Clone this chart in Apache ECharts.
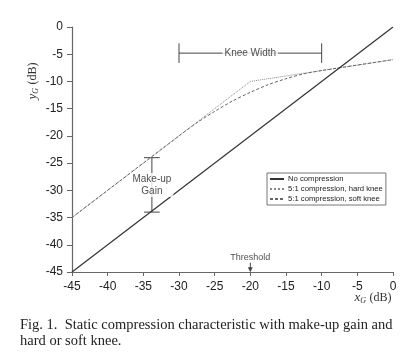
<!DOCTYPE html>
<html>
<head>
<meta charset="utf-8">
<script src="https://cdn.jsdelivr.net/npm/echarts@6/dist/echarts.min.js"></script>
<style>html,body{margin:0;padding:0;background:#fff;}#c{width:413px;height:359px;}</style>
</head>
<body>
<div id="c"></div>
<script>
// ---- data ----
const seriesNames = ['No compression', '5:1 compression, hard knee', '5:1 compression, soft knee'];
const noCompX = [-45, 0];
const noCompY = [-45, 0];
const hardX = [-45, -20, 0];
const hardY = [-35, -10, -6];
const softX = [-45, -30, -27.5, -25, -22.5, -20, -17.5, -15, -12.5, -10, 0];
const softY = [-35, -20, -17.6, -15.5, -13.6, -12, -10.6, -9.5, -8.6, -8, -6];
// annotations (data coordinates)
const kneeWidthX = [-30, -10];
const kneeWidthY = -4.8;
const kneeCapY = [-3, -6.6];
const makeupX = -33.8;
const makeupY = [-24, -34];
const makeupCapHalf = 1.1;
const makeupTextY = -29;
const thresholdX = -20;
const thresholdTextY = -42.3;
const thresholdArrowY = [-43.2, -44.6];

const zip = (xs, ys) => xs.map((x, i) => [x, ys[i]]);
const annoStyle = { color: '#444', width: 1 };
const annoLine = (data) => ({
  type: 'line', data, symbol: 'none', silent: true, z: 3,
  lineStyle: annoStyle, legendHoverLink: false, tooltip: { show: false }
});
const txt = (x, y, text, fs) => ({
  type: 'scatter', symbolSize: 0, silent: true, z: 10,
  data: [[x, y]],
  label: { show: true, position: 'inside', formatter: text, fontFamily: 'Liberation Sans, Arial', fontSize: fs, color: '#222', backgroundColor: '#fff', padding: [0, 2], lineHeight: fs + 2, align: 'center' }
});
const lineColors = ['#333', '#888', '#666'];

const chart = echarts.init(document.getElementById('c'), null, { renderer: 'canvas' });
chart.setOption({
  animation: false,
  backgroundColor: '#fff',
  grid: { left: 72, right: 20, top: 27, bottom: 87, containLabel: false },
  xAxis: {
    type: 'value', min: -45, max: 0, interval: 5,
    axisLine: { show: true, onZero: false, lineStyle: { color: '#666', width: 1.2 } },
    axisTick: { show: true, length: 4, lineStyle: { color: '#666' } },
    axisLabel: { fontFamily: 'Liberation Sans, Arial', fontSize: 12, color: '#222', margin: 9 },
    splitLine: { show: false }
  },
  yAxis: {
    type: 'value', min: -45, max: 0, interval: 5,
    axisLine: { show: true, onZero: false, lineStyle: { color: '#666', width: 1.2 } },
    axisTick: { show: true, length: 5, lineStyle: { color: '#666' } },
    axisLabel: { fontFamily: 'Liberation Sans, Arial', fontSize: 12, color: '#222', margin: 9 },
    splitLine: { show: false }
  },
  legend: {
    orient: 'vertical', left: 267, top: 173,
    data: seriesNames,
    borderColor: '#777', borderWidth: 1, padding: [2, 3, 2, 2],
    itemGap: 2, itemWidth: 14, itemHeight: 8,
    itemStyle: { opacity: 0 },
    textStyle: { fontFamily: 'Liberation Sans, Arial', fontSize: 7.7, color: '#222', padding: [0, 0, 0, -1] }
  },
  series: [
    { name: seriesNames[0], type: 'line', data: zip(noCompX, noCompY), symbol: 'none', z: 5,
      itemStyle: { color: lineColors[0] },
      lineStyle: { color: lineColors[0], width: 1.2, type: 'solid' } },
    { name: seriesNames[1], type: 'line', data: zip(hardX, hardY), symbol: 'none', z: 4,
      itemStyle: { color: lineColors[1] },
      lineStyle: { color: lineColors[1], width: 1, type: 'dotted' } },
    { name: seriesNames[2], type: 'line', data: zip(softX, softY), symbol: 'none', z: 4, smooth: 0.3,
      itemStyle: { color: lineColors[2] },
      lineStyle: { color: lineColors[2], width: 1, type: [3, 2] } },
    annoLine([[kneeWidthX[0], kneeWidthY], [kneeWidthX[1], kneeWidthY]]),
    annoLine([[kneeWidthX[0], kneeCapY[0]], [kneeWidthX[0], kneeCapY[1]]]),
    annoLine([[kneeWidthX[1], kneeCapY[0]], [kneeWidthX[1], kneeCapY[1]]]),
    annoLine([[makeupX, makeupY[0]], [makeupX, makeupY[1]]]),
    annoLine([[makeupX - makeupCapHalf, makeupY[0]], [makeupX + makeupCapHalf, makeupY[0]]]),
    annoLine([[makeupX - makeupCapHalf, makeupY[1]], [makeupX + makeupCapHalf, makeupY[1]]]),
    {
      type: 'line', silent: true, z: 3, lineStyle: annoStyle, itemStyle: { color: '#444' },
      data: [
        { value: [thresholdX, thresholdArrowY[0]], symbol: 'none' },
        { value: [thresholdX, thresholdArrowY[1]], symbol: 'triangle', symbolSize: [5, 5], symbolRotate: 180 }
      ]
    },
    txt(-20, kneeWidthY, 'Knee Width', 10),
    txt(makeupX, makeupTextY, 'Make-up\nGain', 10),
    txt(thresholdX, thresholdTextY, 'Threshold', 9)
  ],
  graphic: [
    { type: 'text', x: 33, y: 81, rotation: Math.PI / 2, style: {
        text: '{i|y}{s|G} {r|(dB)}', align: 'center', verticalAlign: 'middle', fill: '#333',
        rich: {
          i: { fontFamily: 'Liberation Serif', fontStyle: 'italic', fontSize: 13, fill: '#333' },
          s: { fontFamily: 'Liberation Serif', fontStyle: 'italic', fontSize: 8, fill: '#333', verticalAlign: 'bottom', padding: [6, 0, 0, 0] },
          r: { fontFamily: 'Liberation Serif', fontSize: 12, fill: '#333' }
        }
      } },
    { type: 'text', x: 373, y: 298, style: {
        text: '{i|x}{s|G} {r|(dB)}', align: 'center', verticalAlign: 'middle', fill: '#333',
        rich: {
          i: { fontFamily: 'Liberation Serif', fontStyle: 'italic', fontSize: 13, fill: '#333' },
          s: { fontFamily: 'Liberation Serif', fontStyle: 'italic', fontSize: 8, fill: '#333', verticalAlign: 'bottom', padding: [6, 0, 0, 0] },
          r: { fontFamily: 'Liberation Serif', fontSize: 12, fill: '#333' }
        }
      } },
    { type: 'text', left: 20, top: 317, style: {
        text: 'Fig. 1.  Static compression characteristic with make-up gain and\nhard or soft knee.',
        fontFamily: 'Liberation Serif', fontSize: 14.5, lineHeight: 16, fill: '#222'
      } }
  ]
});
</script>
</body>
</html>
